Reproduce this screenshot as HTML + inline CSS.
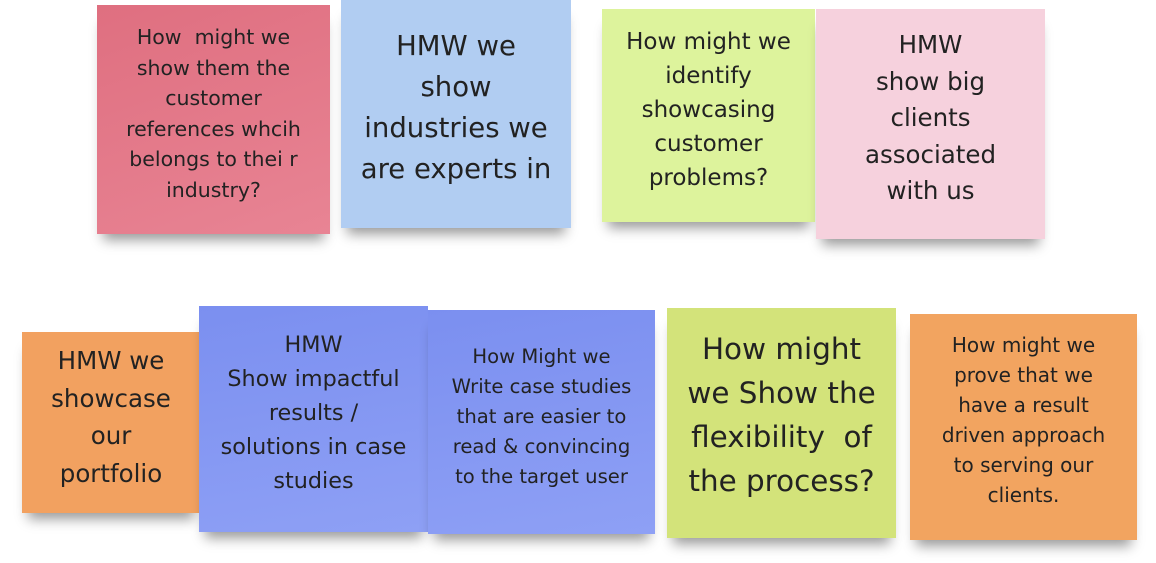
<!DOCTYPE html>
<html><head><meta charset="utf-8"><style>
body{margin:0;width:1156px;height:563px;background:#fff;position:relative;overflow:hidden;font-family:"DejaVu Sans","Liberation Sans",sans-serif;}
.n{position:absolute;box-shadow:0 12px 12px -6px rgba(0,0,0,0.4);}
.t{position:absolute;left:0;right:0;text-align:center;color:#222;white-space:nowrap;}
</style></head><body>
<div class="n" style="left:97px;top:5px;width:233px;height:229px;background:linear-gradient(160deg,#df6f80,#e88494);">
 <div class="t" style="top:17px;font-size:20.5px;line-height:30.5px;">How &nbsp;might we<br>show them the<br>customer<br>references whcih<br>belongs to thei r<br>industry?</div></div>
<div class="n" style="left:341px;top:0px;width:230px;height:228px;background:#b1cdf2;">
 <div class="t" style="top:26px;font-size:27.5px;line-height:41px;">HMW we<br>show<br>industries we<br>are experts in</div></div>
<div class="n" style="left:602px;top:9px;width:213px;height:213px;background:#ddf39c;">
 <div class="t" style="top:16px;font-size:23px;line-height:34px;">How might we<br>identify<br>showcasing<br>customer<br>problems?</div></div>
<div class="n" style="left:816px;top:9px;width:229px;height:230px;background:#f6d1dd;">
 <div class="t" style="top:18px;font-size:24.5px;line-height:36.5px;">HMW<br>show big<br>clients<br>associated<br>with us</div></div>
<div class="n" style="left:22px;top:332px;width:178px;height:181px;background:#f2a160;">
 <div class="t" style="top:10px;font-size:24.5px;line-height:37.5px;">HMW we<br>showcase<br>our<br>portfolio</div></div>
<div class="n" style="left:199px;top:306px;width:229px;height:226px;background:linear-gradient(170deg,#7b8ff0,#8ea0f5);">
 <div class="t" style="top:22px;font-size:22.3px;line-height:34px;">HMW<br>Show impactful<br>results /<br>solutions in case<br>studies</div></div>
<div class="n" style="left:428px;top:310px;width:227px;height:224px;background:linear-gradient(170deg,#7b8ff0,#8ea0f5);">
 <div class="t" style="top:32px;font-size:19.6px;line-height:30px;">How Might we<br>Write case studies<br>that are easier to<br>read &amp; convincing<br>to the target user</div></div>
<div class="n" style="left:667px;top:308px;width:229px;height:230px;background:#d3e37a;">
 <div class="t" style="top:19px;font-size:29.4px;line-height:44px;">How might<br>we Show the<br>flexibility &nbsp;of<br>the process?</div></div>
<div class="n" style="left:910px;top:314px;width:227px;height:226px;background:#f2a460;">
 <div class="t" style="top:16px;font-size:20px;line-height:30px;">How might we<br>prove that we<br>have a result<br>driven approach<br>to serving our<br>clients.</div></div>
</body></html>
